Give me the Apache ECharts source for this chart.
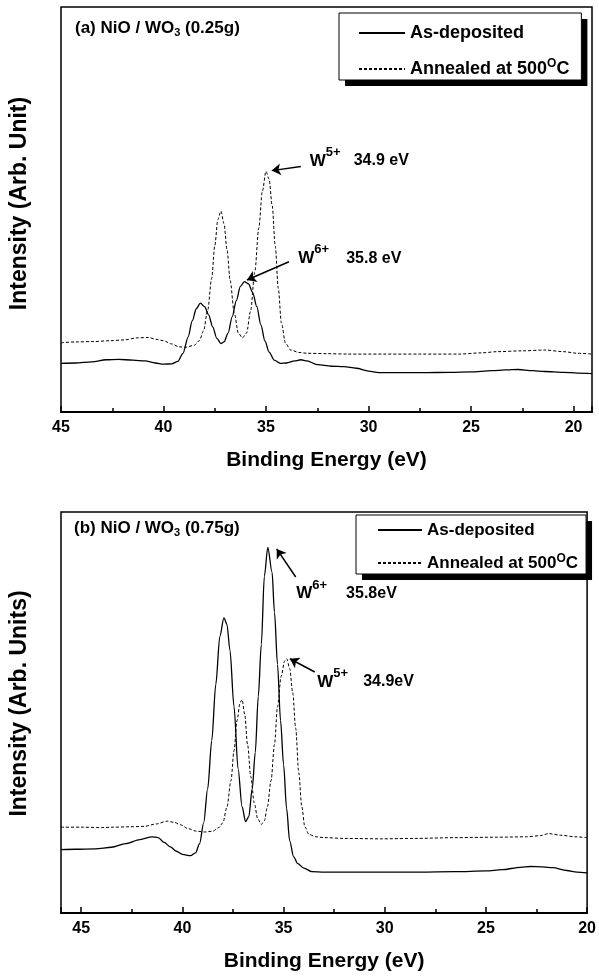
<!DOCTYPE html>
<html><head><meta charset="utf-8">
<script src="https://cdn.jsdelivr.net/npm/echarts@6/dist/echarts.min.js"></script>
<style>html,body{margin:0;padding:0;background:#fff}#c{width:599px;height:980px}</style>
</head><body><div id="c"></div>
<script>
// ---------- data (binding energy eV, intensity arb. 0-100) ----------
const topSolid = [[45.0,12.0],[44.3,12.1],[43.5,12.4],[42.8,12.9],[42.2,13.0],[41.5,12.8],[40.9,12.6],[40.4,12.1],[40.0,11.8],[39.6,11.9],[39.3,12.5],[39.05,14.5],[38.8,18.5],[38.6,22.5],[38.4,25.5],[38.2,26.9],[38.0,26.0],[37.8,24.0],[37.6,21.0],[37.4,18.2],[37.2,16.9],[37.05,17.3],[36.85,19.5],[36.65,23.5],[36.45,27.5],[36.25,31.0],[36.05,32.2],[35.85,31.6],[35.65,29.5],[35.45,26.0],[35.25,21.5],[35.05,17.5],[34.85,14.8],[34.6,12.8],[34.3,12.0],[34.0,12.1],[33.6,12.6],[33.3,12.9],[33.0,12.6],[32.5,11.7],[31.8,11.3],[31.2,11.2],[30.6,10.8],[30.0,10.1],[29.5,9.7],[28.5,9.7],[27.4,9.7],[26.0,9.8],[25.0,9.9],[24.0,10.2],[23.3,10.4],[22.7,10.5],[22.0,10.2],[21.4,10.0],[20.5,9.8],[19.8,9.6],[19.1,9.5]];
const topDashed = [[45.0,17.1],[44.3,17.3],[43.4,17.4],[42.6,17.6],[41.9,17.8],[41.3,18.3],[40.75,18.4],[40.3,17.9],[40.0,17.6],[39.6,16.8],[39.25,16.1],[38.9,16.0],[38.5,16.5],[38.25,17.6],[38.05,20.0],[37.85,25.0],[37.65,33.0],[37.5,41.0],[37.35,47.5],[37.2,49.6],[37.05,46.5],[36.9,40.0],[36.75,32.5],[36.55,24.5],[36.35,19.5],[36.15,18.3],[35.95,19.5],[35.75,25.0],[35.55,34.5],[35.35,45.5],[35.18,54.5],[35.0,59.4],[34.85,57.5],[34.7,51.0],[34.55,41.0],[34.4,30.5],[34.25,22.0],[34.05,17.0],[33.8,15.3],[33.4,14.7],[33.0,14.5],[32.0,14.4],[31.0,14.3],[29.3,14.3],[27.5,14.3],[25.6,14.3],[24.5,14.6],[23.7,14.9],[22.5,15.1],[21.4,15.3],[20.5,14.9],[19.8,14.5],[19.1,14.3]];
const botSolid = [[46.0,15.8],[45.3,15.9],[44.3,16.0],[43.5,16.4],[42.8,17.3],[42.1,18.3],[41.5,19.0],[41.2,18.8],[40.9,17.6],[40.6,16.5],[40.3,15.4],[40.0,14.6],[39.6,14.3],[39.35,15.0],[39.15,17.3],[38.95,22.5],[38.75,31.0],[38.55,43.0],[38.35,57.0],[38.15,69.0],[37.95,73.6],[37.8,72.0],[37.65,65.5],[37.45,51.5],[37.25,36.0],[37.05,26.5],[36.88,22.8],[36.72,24.0],[36.55,31.0],[36.4,40.0],[36.25,54.0],[36.1,67.0],[35.95,84.0],[35.78,91.2],[35.57,85.0],[35.45,75.0],[35.3,62.0],[35.15,48.0],[35.0,37.0],[34.85,26.0],[34.7,18.0],[34.5,14.0],[34.3,12.3],[34.0,11.2],[33.6,10.3],[33.0,10.2],[32.1,10.2],[31.0,10.2],[30.0,10.2],[28.3,10.2],[26.5,10.3],[25.0,10.5],[24.2,10.8],[23.3,11.4],[22.8,11.6],[22.2,11.5],[21.7,11.3],[21.0,10.6],[20.5,10.2],[20.0,10.0]];
const botDashed = [[46.0,21.4],[45.0,21.4],[44.0,21.3],[43.4,21.4],[42.6,21.5],[41.9,21.6],[41.3,22.2],[40.75,22.9],[40.4,22.6],[40.1,22.0],[39.7,21.0],[39.3,20.4],[38.9,20.2],[38.5,20.4],[38.2,21.3],[38.0,22.5],[37.8,26.4],[37.6,33.0],[37.45,40.5],[37.3,48.0],[37.15,52.5],[37.05,53.2],[36.92,49.5],[36.78,42.0],[36.62,34.0],[36.45,27.5],[36.28,23.5],[36.1,22.1],[35.95,23.0],[35.8,26.5],[35.62,33.0],[35.45,42.0],[35.3,51.4],[35.12,59.0],[34.95,62.8],[34.84,63.4],[34.7,61.0],[34.55,55.0],[34.4,46.0],[34.25,35.0],[34.1,26.5],[33.95,21.5],[33.75,19.6],[33.4,19.0],[33.0,18.8],[32.0,18.6],[30.2,18.5],[28.5,18.6],[26.4,18.8],[24.5,18.9],[23.0,19.0],[22.3,19.3],[21.9,19.8],[21.3,19.4],[20.6,19.0],[20.0,18.8]];

const seriesNames = ['As-deposited', 'Annealed at 500°C'];
const panelLabels = ['(a) NiO / WO{sub|3} (0.25g)', '(b) NiO / WO{sub|3} (0.75g)'];
const yTitles = ['Intensity (Arb. Unit)', 'Intensity (Arb. Units)'];
const xTitle = 'Binding Energy (eV)';
const xRanges = [[19.1, 45], [20, 46]];

// annotation texts [energy, intensity] and arrows [from, to]
const topLabels = [
  {coord: [32.89, 62.0], text: '{w|W}{sup|5+}{v|34.9 eV}', gap: 13},
  {coord: [33.45, 38.0], text: '{w|W}{sup|6+}{v|35.8 eV}', gap: 17}
];
const topArrows = [[[33.30, 60.6], [34.72, 59.6]], [[33.88, 37.1], [35.93, 32.6]]];
const botLabels = [
  {coord: [34.40, 79.6], text: '{w|W}{sup|6+}{v|35.8eV}', gap: 19},
  {coord: [33.36, 57.6], text: '{w|W}{sup|5+}{v|34.9eV}', gap: 15}
];
const botArrows = [[[34.40, 83.8], [35.34, 90.8]], [[33.46, 60.1], [34.69, 63.4]]];

// ---------- chart ----------
const FONT = '"Liberation Sans", Arial, Helvetica, sans-serif';
const grids = [
  {left: 61, top: 7, right: 7, height: 405},
  {left: 61, top: 512, right: 8, height: 401}
];

function annoMarkPoint(labels) {
  return {
    silent: true, symbol: 'circle', symbolSize: 1,
    itemStyle: {color: 'rgba(0,0,0,0)'},
    label: {show: true, position: 'right', distance: 0, color: '#000'},
    data: labels.map(l => ({
      coord: l.coord,
      label: {
        formatter: l.text,
        rich: {
          w: {fontFamily: FONT, fontWeight: 'bold', fontSize: 17, lineHeight: 30, color: '#000'},
          sup: {fontFamily: FONT, fontWeight: 'bold', fontSize: 13, lineHeight: 10, verticalAlign: 'top', color: '#000'},
          v: {fontFamily: FONT, fontWeight: 'bold', fontSize: 16, lineHeight: 30, color: '#000', padding: [0, 0, 0, l.gap]}
        }
      }
    }))
  };
}
function arrowMarkLine(arrows) {
  return {
    silent: true, symbol: ['none', 'arrow'], symbolSize: 9,
    label: {show: false},
    lineStyle: {color: '#000', width: 1.5, type: 'solid'},
    data: arrows.map(a => [{coord: a[0]}, {coord: a[1]}])
  };
}

function makeLegend(i, shadowLayer) {
  const hidden = 'rgba(0,0,0,0)';
  return {
    orient: 'vertical',
    left: i === 0 ? 339 : 356,
    top: i === 0 ? 13 : 515,
    data: seriesNames,
    padding: i === 0 ? [9, 12, 0, 19] : [5, 8, 1, 21],
    itemWidth: i === 0 ? 46 : 44,
    itemHeight: 14,
    itemGap: i === 0 ? 14 : 13,
    z: shadowLayer ? 3 : 4,
    backgroundColor: '#fff',
    borderColor: '#000',
    borderWidth: shadowLayer ? 0 : 1,
    shadowColor: shadowLayer ? '#000' : hidden,
    shadowBlur: 0,
    shadowOffsetX: shadowLayer ? 6 : 0,
    shadowOffsetY: shadowLayer ? 6 : 0,
    selectedMode: false,
    itemStyle: {color: hidden, borderColor: hidden, borderWidth: 0},
    lineStyle: shadowLayer ? {color: hidden} : {},
    formatter: n => n.replace('500°C', '500{sup|O}C'),
    textStyle: {
      fontFamily: FONT, fontWeight: 'bold', fontSize: i === 0 ? 18 : 17, lineHeight: i === 0 ? 22 : 20,
      color: shadowLayer ? hidden : '#000',
      rich: {sup: {fontFamily: FONT, fontWeight: 'bold', fontSize: 12, lineHeight: 10, verticalAlign: 'top',
        color: shadowLayer ? hidden : '#000'}}
    }
  };
}

const option = {
  animation: false,
  backgroundColor: '#fff',
  title: panelLabels.map((t, i) => ({
    text: t,
    left: i === 0 ? 75 : 74,
    top: i === 0 ? 18 : 518,
    padding: 0,
    textStyle: {
      fontFamily: FONT, fontWeight: 'bold', fontSize: 17, lineHeight: 20, color: '#000',
      rich: {sub: {fontFamily: FONT, fontWeight: 'bold', fontSize: 11, lineHeight: 10, verticalAlign: 'bottom', color: '#000'}}
    }
  })),
  legend: [makeLegend(0, true), makeLegend(0, false), makeLegend(1, true), makeLegend(1, false)],
  grid: grids.map(g => Object.assign({show: true, borderColor: '#000', borderWidth: 1.5, backgroundColor: 'transparent'}, g)),
  xAxis: [0, 1].map(i => ({
    gridIndex: i, type: 'value', inverse: true,
    min: xRanges[i][0], max: xRanges[i][1], splitNumber: 5,
    axisLine: {show: true, onZero: false, lineStyle: {color: '#000', width: 2}},
    axisTick: {show: true, inside: true, length: 6, lineStyle: {color: '#000', width: 1.5}},
    minorTick: {show: true, splitNumber: 2, length: 4, lineStyle: {color: '#000', width: 1.5}},
    splitLine: {show: false},
    axisLabel: {color: '#000', fontFamily: FONT, fontWeight: 'bold', fontSize: 16, margin: 8,
      showMinLabel: i === 1, showMaxLabel: i === 0},
    name: xTitle, nameLocation: 'middle', nameGap: 38,
    nameTextStyle: {color: '#000', fontFamily: FONT, fontWeight: 'bold', fontSize: 21}
  })),
  yAxis: [0, 1].map(i => ({
    gridIndex: i, type: 'value', min: 0, max: 100,
    axisLine: {show: false}, axisTick: {show: false}, axisLabel: {show: false}, splitLine: {show: false},
    name: yTitles[i], nameLocation: 'middle', nameGap: 30,
    nameTextStyle: {color: '#000', fontFamily: FONT, fontWeight: 'bold', fontSize: 23,
      padding: i === 0 ? [0, 0, 0, 12] : [0, 0, 0, 18]}
  })),
  series: [
    {name: seriesNames[1], type: 'line', xAxisIndex: 0, yAxisIndex: 0, data: topDashed,
     symbol: 'none', smooth: 0.3, smoothMonotone: 'x',
     lineStyle: {color: '#000', width: 1, type: [3, 2]}, itemStyle: {color: '#000'}},
    {name: seriesNames[0], type: 'line', xAxisIndex: 0, yAxisIndex: 0, data: topSolid,
     symbol: 'none', smooth: 0.3, smoothMonotone: 'x',
     lineStyle: {color: '#000', width: 1.3, type: 'solid'}, itemStyle: {color: '#000'},
     markLine: arrowMarkLine(topArrows), markPoint: annoMarkPoint(topLabels)},
    {name: seriesNames[1], type: 'line', xAxisIndex: 1, yAxisIndex: 1, data: botDashed,
     symbol: 'none', smooth: 0.3, smoothMonotone: 'x',
     lineStyle: {color: '#000', width: 1, type: [3, 2]}, itemStyle: {color: '#000'}},
    {name: seriesNames[0], type: 'line', xAxisIndex: 1, yAxisIndex: 1, data: botSolid,
     symbol: 'none', smooth: 0.3, smoothMonotone: 'x',
     lineStyle: {color: '#000', width: 1.3, type: 'solid'}, itemStyle: {color: '#000'},
     markLine: arrowMarkLine(botArrows), markPoint: annoMarkPoint(botLabels)}
  ]
};

const chart = echarts.init(document.getElementById('c'), null, {renderer: 'canvas'});
chart.setOption(option);
</script>
</body></html>
